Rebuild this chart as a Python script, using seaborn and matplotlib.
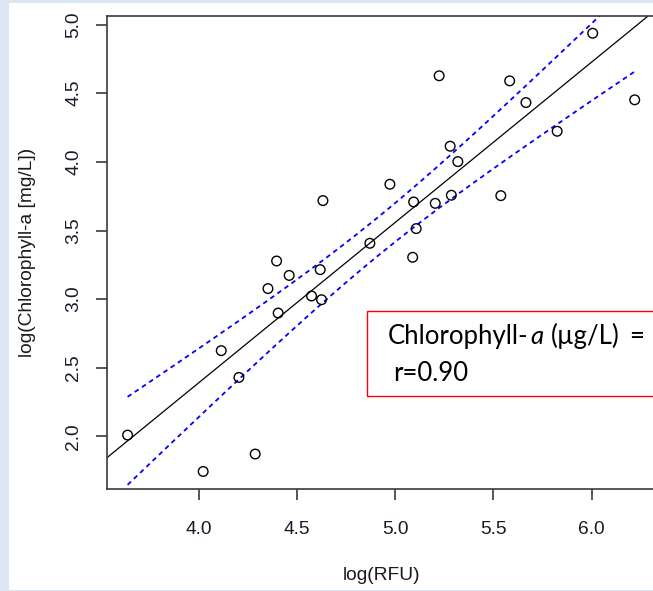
import numpy as np
import pandas as pd
import matplotlib
matplotlib.use("Agg")
import matplotlib.pyplot as plt
import seaborn as sns
from matplotlib.patches import Rectangle

# log-transformed sensor fluorescence and measured chlorophyll-a
log_rfu = [3.637, 4.022, 4.287, 4.114, 4.204, 4.352, 4.396, 4.404, 4.460, 4.574,
           4.618, 4.625, 4.632, 4.871, 4.973, 5.094, 5.089, 5.107, 5.224, 5.204,
           5.280, 5.286, 5.319, 5.538, 5.583, 5.666, 5.825, 6.006, 6.220]
log_chla = [2.010, 1.745, 1.872, 2.625, 2.430, 3.077, 3.278, 2.899, 3.173, 3.023,
            3.215, 2.996, 3.718, 3.407, 3.837, 3.708, 3.305, 3.514, 4.627, 3.698,
            4.114, 3.757, 4.002, 3.754, 4.590, 4.432, 4.223, 4.937, 4.452]

x_ticks = [4.0, 4.5, 5.0, 5.5, 6.0]
y_ticks = [2.0, 2.5, 3.0, 3.5, 4.0, 4.5, 5.0]
x_label = "log(RFU)"
y_label = "log(Chlorophyll-a [mg/L])"
eq_parts = ["Chlorophyll-", "a", "(µg/L)", "="]
r_text = "r=0.90"

sns.set_style("ticks")
plt.rcParams['font.family'] = ['Liberation Sans', 'DejaVu Sans']

df = pd.DataFrame({"rfu": log_rfu, "chla": log_chla})
x = df["rfu"].to_numpy()
y = df["chla"].to_numpy()


def padded(v, frac=0.04):
    lo, hi = np.min(v), np.max(v)
    d = (hi - lo) * frac
    return lo - d, hi + d


# ordinary least squares fit with 95% confidence band for the mean
n = len(x)
slope, intercept = np.polyfit(x, y, 1)
resid = y - (intercept + slope * x)
s = np.sqrt(resid @ resid / (n - 2))
sxx = np.sum((x - x.mean()) ** 2)
t_crit = 2.0518  # Student t, 0.975 quantile, 27 df
xg = np.linspace(x.min(), x.max(), 200)
yg = intercept + slope * xg
half = t_crit * s * np.sqrt(1.0 / n + (xg - x.mean()) ** 2 / sxx)

W, H = 653, 591
fig = plt.figure(figsize=(W / 100, H / 100), dpi=100, facecolor="#dce6f2")
fig.add_artist(Rectangle((9 / W, 1 / H), 1.0, (H - 4) / H, transform=fig.transFigure,
                         facecolor="white", edgecolor="none", zorder=-5))

ax = fig.add_axes([107.3 / W, 102 / H, 547.7 / W, 473.3 / H])
ax.set_facecolor("white")

xlim = padded(x)
ylim = padded(y)

xs = np.array([xlim[0] - 1, xlim[1] + 1])
ax.plot(xs, intercept + slope * xs, color="black", lw=0.9, zorder=2)
ax.plot(xg, yg + half, color="#0000ff", lw=1.3, ls=(0, (2.6, 2.2)), zorder=2)
ax.plot(xg, yg - half, color="#0000ff", lw=1.3, ls=(0, (2.6, 2.2)), zorder=2)

sns.scatterplot(data=df, x="rfu", y="chla", ax=ax, marker="o", s=48,
                facecolor="none", edgecolor="black", linewidth=1.0, zorder=3)

ax.set_xlim(*xlim)
ax.set_ylim(*ylim)
ax.set_xticks(x_ticks)
ax.set_xticklabels([f"{v:.1f}" for v in x_ticks])
ax.set_yticks(y_ticks)
ax.set_yticklabels([f"{v:.1f}" for v in y_ticks], rotation=90, va="center")

spine_col = "#3a3a3a"
for side in ["left", "bottom", "top", "right"]:
    ax.spines[side].set_visible(True)
    ax.spines[side].set_color(spine_col)
    ax.spines[side].set_linewidth(1.2)

ax.tick_params(axis="both", direction="out", length=8, width=1.2, color=spine_col,
               labelsize=13.8, labelcolor="#1a1a2a")
ax.tick_params(axis="x", pad=15)
ax.tick_params(axis="y", pad=10)

ax.set_xlabel(x_label, fontsize=13.8, color="#1a1a1a")
ax.set_ylabel(y_label, fontsize=13.8, color="#1a1a1a")
ax.xaxis.set_label_coords(0.5, (489 - 575) / 473.3)
ax.xaxis.label.set_va("center")
ax.yaxis.set_label_coords((27 - 107.3) / 547.7, 0.5)
ax.yaxis.label.set_va("center")

# annotation box with the regression equation
fig.add_artist(Rectangle((367.3 / W, 1 - 396 / H), 400 / W, (396 - 310.7) / H,
                         transform=fig.transFigure, facecolor="white",
                         edgecolor="#ff0000", lw=1.0, zorder=5))
fam = ["Lato", "DejaVu Sans"]
renderer = fig.canvas.get_renderer()
base = 1 - 344 / H
styles = ["normal", "italic", "normal", "normal"]
gaps = [2.0, 7.0, 10.0, 0.0]
px = 388.0
for part, st, gap in zip(eq_parts, styles, gaps):
    t = fig.text(px / W, base, part, fontsize=18.5, family=fam, style=st,
                 va="baseline", ha="left", color="black", zorder=6)
    bb = t.get_window_extent(renderer=renderer)
    if bb.x1 > W - 2:
        px = W - 2 - bb.width
        t.set_x(px / W)
        bb = t.get_window_extent(renderer=renderer)
    px = bb.x1 + gap
fig.text(393 / W, 1 - 380.7 / H, r_text, fontsize=18.5, family=fam,
         va="baseline", ha="left", color="black", zorder=6)

fig.savefig("out.png", dpi=100, facecolor=fig.get_facecolor())
